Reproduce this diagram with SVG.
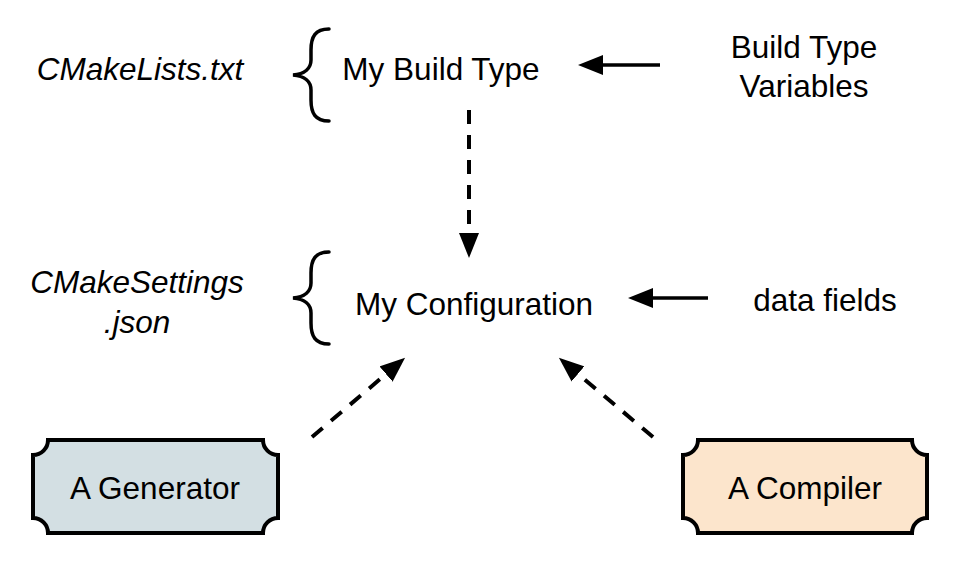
<svg xmlns="http://www.w3.org/2000/svg" width="959" height="572" viewBox="0 0 959 572">
<style>
text{font-family:"Liberation Sans",Arial,sans-serif;font-size:31.5px;fill:#000;text-anchor:middle}
.it{font-style:italic}
.brace{fill:none;stroke:#000;stroke-width:3.5;stroke-linecap:round}
.plaque{stroke:#000;stroke-width:4}
.solid{fill:none;stroke:#000;stroke-width:3.5}
.dash{fill:none;stroke:#000;stroke-width:4;stroke-dasharray:14 11}
</style>
<defs>
<marker id="ah" markerUnits="userSpaceOnUse" markerWidth="26" markerHeight="20" refX="17" refY="10" orient="auto">
<path d="M0,0 L25,10 L0,20 Z" fill="#000"/>
</marker>
</defs>
<rect width="959" height="572" fill="#fff"/>
<g id="cmakelists-label"><text class="it" x="140" y="80">CMakeLists.txt</text></g>
<g id="brace-1"><path class="brace" d="M329,29 C315,29 311,37 311,50 L311,60 C311,68 305,74 293,75 C305,76 311,82 311,90 L311,100 C311,113 315,121 329,121"/></g>
<g id="my-build-type"><text x="441" y="80">My Build Type</text></g>
<g id="build-type-variables"><text x="804" y="58">Build Type</text><text x="804" y="97">Variables</text></g>
<g id="cmakesettings-label"><text class="it" x="137" y="293">CMakeSettings</text><text class="it" x="137" y="333">.json</text></g>
<g id="brace-2"><path class="brace" d="M329,252 C315,252 311,260 311,273 L311,283 C311,291 305,297 293,298 C305,299 311,305 311,313 L311,323 C311,336 315,344 329,344"/></g>
<g id="my-configuration"><text x="474" y="315">My Configuration</text></g>
<g id="data-fields"><text x="825" y="311">data fields</text></g>
<g id="a-generator">
<path class="plaque" fill="#d3dfe3" d="M48,440 H263 A15,15 0 0 0 278,455 V518 A15,15 0 0 0 263,533 H48 A15,15 0 0 0 33,518 V455 A15,15 0 0 0 48,440 Z"/>
<text x="155" y="499">A Generator</text>
</g>
<g id="a-compiler">
<path class="plaque" fill="#fce5cc" d="M698,440 H912 A15,15 0 0 0 927,455 V518 A15,15 0 0 0 912,533 H698 A15,15 0 0 0 683,518 V455 A15,15 0 0 0 698,440 Z"/>
<text x="805" y="499">A Compiler</text>
</g>
<g id="connectors">
<line class="solid" x1="660" y1="65" x2="586" y2="65" marker-end="url(#ah)"/>
<line class="dash" x1="469" y1="110" x2="469" y2="250" marker-end="url(#ah)"/>
<line class="solid" x1="708" y1="298" x2="636" y2="298" marker-end="url(#ah)"/>
<line class="dash" x1="312" y1="437" x2="399" y2="363" marker-end="url(#ah)"/>
<line class="dash" x1="653" y1="437" x2="565" y2="363" marker-end="url(#ah)"/>
</g>
</svg>
